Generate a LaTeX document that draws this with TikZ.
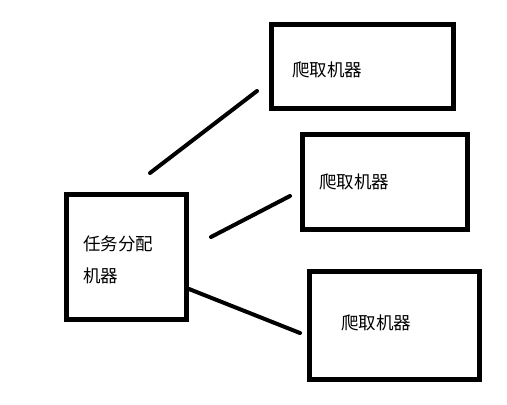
\documentclass[tikz,border=0pt]{standalone}
\usepackage{fontspec}
\newfontfamily\cjk{Noto Sans CJK SC}
\usetikzlibrary{positioning}

\begin{document}
\begin{tikzpicture}[
  x=1pt, y=-1pt,
  box/.style={draw, line width=4.6pt, inner sep=0pt},
  lbl/.style={anchor=west, inner sep=0pt, align=left, font=\cjk\fontsize{17.5}{32}\selectfont},
  link/.style={line width=4pt, line cap=round}
]
\useasboundingbox (0,0) rectangle (507,405);
% boxes
\node[box, minimum width=120.5pt, minimum height=125.5pt] (dispatch) at (126.5,257) {};
\node[box, minimum width=182.5pt, minimum height=84.5pt] (crawlA) at (362.5,66.5) {};
\node[box, minimum width=165.5pt, minimum height=95.5pt] (crawlB) at (385,182) {};
\node[box, minimum width=170.5pt, minimum height=108.5pt] (crawlC) at (394.5,325.5) {};
% texts
\node[lbl] (dispatchtxt) at (83,260) {任务分配\\机器};
\node[lbl] (crawlAtxt) at (292,70) {爬取机器};
\node[lbl] (crawlBtxt) at (319,182) {爬取机器};
\node[lbl] (crawlCtxt) at (341,323) {爬取机器};
% connector ends
\coordinate (a1) at (150,173);
\coordinate (a2) at (257,91);
\coordinate (b1) at (211,237);
\coordinate (b2) at (290,196);
\coordinate (c1) at (189,289);
\coordinate (c2) at (300,333);
\draw[link] (a1) -- (a2);
\draw[link] (b1) -- (b2);
\draw[link] (c1) -- (c2);
\end{tikzpicture}
\end{document}
